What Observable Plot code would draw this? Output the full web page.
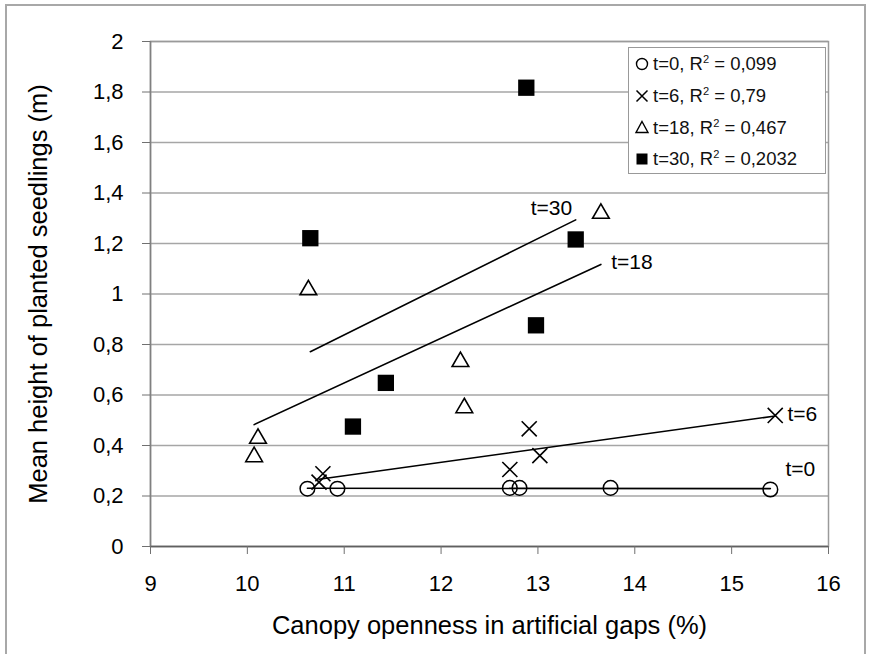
<!DOCTYPE html>
<html>
<head>
<meta charset="utf-8">
<script src="https://cdn.jsdelivr.net/npm/d3@7"></script>
<script src="https://cdn.jsdelivr.net/npm/@observablehq/plot@0.6"></script>
<style>
  html, body { margin: 0; padding: 0; background: #fff; }
  #wrap { position: relative; width: 873px; height: 654px; overflow: hidden; font-family: "Liberation Sans", Arial, sans-serif; }
  #border { position: absolute; left: 5px; top: 4px; width: 861px; height: 700px; border: 2px solid #a8a8a8; box-sizing: border-box; pointer-events: none; }
  #legend { position: absolute; left: 628px; top: 47px; width: 198px; height: 127px; border: 1.5px solid #999; background: #fff; box-sizing: border-box; }
  .row { position: absolute; left: 0; height: 24px; display: flex; align-items: center; font-size: 18.5px; color: #111; white-space: nowrap; }
  .row svg { width: 22px; height: 22px; margin-left: 2px; }
  sup { font-size: 0.6em; vertical-align: 0.6em; line-height: 0; }
</style>
</head>
<body>
<div id="wrap">
  <div id="chart"></div>
  <div id="legend"></div>
  <div id="border"></div>
</div>
<script>
// Canopy openness (%) and mean height (m) per survey time
const t0x = [10.62, 10.93, 12.71, 12.81, 13.75, 15.40];
const t0y = [0.229, 0.229, 0.232, 0.232, 0.232, 0.226];
const t6x = [10.74, 10.78, 12.71, 12.91, 13.02, 15.45];
const t6y = [0.255, 0.288, 0.305, 0.466, 0.360, 0.519];
const t18x = [10.07, 10.11, 10.63, 12.20, 12.24, 13.65];
const t18y = [0.355, 0.428, 1.016, 0.732, 0.549, 1.319];
const t30x = [10.65, 11.09, 11.43, 12.88, 12.98, 13.39];
const t30y = [1.221, 0.475, 0.648, 1.817, 0.876, 1.216];

const seriesNames = ["t=0", "t=6", "t=18", "t=30"];
const rSquared = ["0,099", "0,79", "0,467", "0,2032"];

// Trend line end labels (data coordinates)
const labelText = ["t=30", "t=18", "t=6", "t=0"];
const labelX = [13.14, 13.97, 15.73, 15.71];
const labelY = [1.339, 1.125, 0.522, 0.305];

const xTicks = [9, 10, 11, 12, 13, 14, 15, 16];
const yTicks = [0, 0.2, 0.4, 0.6, 0.8, 1, 1.2, 1.4, 1.6, 1.8, 2];

const toRows = (xs, ys, s) => xs.map((x, i) => ({x, y: ys[i], series: s}));
const d0 = toRows(t0x, t0y, "t=0");
const d6 = toRows(t6x, t6y, "t=6");
const d18 = toRows(t18x, t18y, "t=18");
const d30 = toRows(t30x, t30y, "t=30");
const labels = labelText.map((t, i) => ({text: t, x: labelX[i], y: labelY[i]}));
const fmt = d => String(+d.toFixed(1)).replace(".", ",");

const chart = Plot.plot({
  width: 873,
  height: 654,
  marginLeft: 150,
  marginRight: 45,
  marginTop: 41,
  marginBottom: 108,
  style: {fontFamily: "'Liberation Sans', Arial, sans-serif", background: "transparent", color: "#000"},
  x: {domain: [9, 16]},
  y: {domain: [0, 2]},
  marks: [
    Plot.gridY(yTicks, {stroke: "#a6a6a6", strokeOpacity: 1, strokeWidth: 1.5}),
    Plot.frame({stroke: "#9a9a9a", strokeWidth: 1.5}),
    Plot.ruleX([9], {stroke: "#808080", strokeWidth: 1.5}),
    Plot.ruleY([0], {stroke: "#606060", strokeWidth: 1.5}),
    Plot.axisX({ticks: xTicks, tickFormat: d => String(d), tickSize: 8, tickPadding: 21, fontSize: 22, stroke: "#707070", fill: "#000", label: null}),
    Plot.axisY({ticks: yTicks, tickFormat: fmt, tickSize: 8, tickPadding: 19, fontSize: 22, stroke: "#707070", fill: "#000", label: null}),
    Plot.text(["Canopy openness in artificial gaps (%)"], {frameAnchor: "bottom", dy: 87, fontSize: 25.5, fill: "#000"}),
    Plot.text(["Mean height of planted seedlings (m)"], {frameAnchor: "left", textAnchor: "middle", dx: -112, rotate: -90, fontSize: 25.5, fill: "#000"}),
    Plot.linearRegressionY(d0, {x: "x", y: "y", ci: 0, stroke: "#000", strokeWidth: 1.6}),
    Plot.linearRegressionY(d6, {x: "x", y: "y", ci: 0, stroke: "#000", strokeWidth: 1.6}),
    Plot.linearRegressionY(d18, {x: "x", y: "y", ci: 0, stroke: "#000", strokeWidth: 1.6}),
    Plot.linearRegressionY(d30, {x: "x", y: "y", ci: 0, stroke: "#000", strokeWidth: 1.6}),
    Plot.dot(d0, {x: "x", y: "y", symbol: "circle", r: 7.3, stroke: "#000", fill: "none", strokeWidth: 1.5}),
    Plot.dot(d6, {x: "x", y: "y", symbol: "times", r: 6.9, stroke: "#000", strokeWidth: 1.6}),
    Plot.dot(d18, {x: "x", y: "y", symbol: "triangle", r: 6.2, stroke: "#000", fill: "none", strokeWidth: 1.6}),
    Plot.dot(d30, {x: "x", y: "y", symbol: "square", r: 9.2, fill: "#000", stroke: "none"}),
    Plot.text(labels, {x: "x", y: "y", text: "text", fontSize: 21, fill: "#000"})
  ]
});
document.getElementById("chart").appendChild(chart);

// Legend
const legend = document.getElementById("legend");
const symbolSvg = [
  '<circle cx="11" cy="11" r="5.5" fill="none" stroke="#000" stroke-width="1.4"/>',
  '<path d="M5.5 5.5L16.5 16.5M16.5 5.5L5.5 16.5" stroke="#000" stroke-width="1.5"/>',
  '<path d="M11 4.5L17 15.5L5 15.5Z" fill="none" stroke="#000" stroke-width="1.4"/>',
  '<rect x="5.5" y="5.5" width="11" height="11" fill="#000"/>'
];
const rowTops = [4, 36, 68, 99];
seriesNames.forEach((s, i) => {
  const row = document.createElement("div");
  row.className = "row";
  row.style.top = rowTops[i] + "px";
  row.innerHTML = `<svg viewBox="0 0 22 22">${symbolSvg[i]}</svg><span>${s}, R<sup>2</sup> = ${rSquared[i]}</span>`;
  legend.appendChild(row);
});
</script>
</body>
</html>
